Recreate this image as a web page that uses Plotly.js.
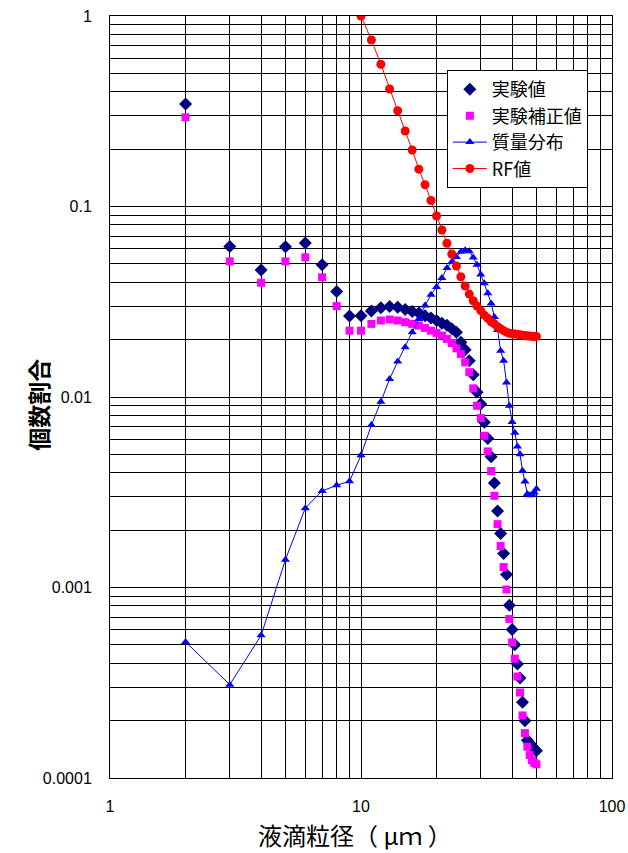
<!DOCTYPE html>
<html>
<head>
<meta charset="utf-8">
<script src="https://cdn.plot.ly/plotly-3.0.1.min.js"></script>
<style>html,body{margin:0;padding:0;background:#fff;}#chart{width:628px;height:853px;}</style>
</head>
<body>
<div id="chart"></div>
<script>
// ---- data ----
var sizeX = [2,3,4,5,6,7,8,9,10,11,12,13,14,15,16,17,18,19,20,21,22,23,24,25,26,27,28,29,30,31,32,33,34,35,36,37,38,39,40,41,42,43,44,45,46,47,48,49,50];
var expValues = [0.345,0.0616,0.0464,0.0614,0.0644,0.0495,0.0358,0.0266,0.0267,0.0283,0.0294,0.0299,0.0296,0.0288,0.0281,0.0276,0.0267,0.0260,0.0252,0.0244,0.0238,0.0228,0.0219,0.0194,0.0177,0.0155,0.0131,0.0106,0.00919,0.00736,0.00606,0.00485,0.00354,0.00252,0.00192,0.00151,0.00117,0.000807,0.000601,0.000501,0.000397,0.000335,0.000250,0.000200,0.000158,0.000152,0.000147,0.000142,0.000139];
var corrValues = [0.294,0.0515,0.0398,0.0515,0.0541,0.0425,0.0300,0.0223,0.0223,0.0242,0.0252,0.0255,0.0252,0.0247,0.0242,0.0237,0.0230,0.0223,0.0217,0.0210,0.0202,0.0192,0.0180,0.0168,0.0152,0.0135,0.0111,0.0090,0.00775,0.00626,0.00518,0.00409,0.00303,0.00215,0.00165,0.00128,0.000976,0.000684,0.000515,0.000423,0.000341,0.000281,0.000213,0.000172,0.000146,0.000132,0.000124,0.000120,0.000118];
var massValues = [0.000518,0.000309,0.000561,0.00140,0.00261,0.00321,0.00344,0.00361,0.00495,0.00712,0.00945,0.01244,0.01534,0.01826,0.0219,0.0257,0.0302,0.0344,0.0378,0.0421,0.0476,0.0512,0.0543,0.0578,0.0589,0.0582,0.0540,0.0495,0.0440,0.0395,0.0350,0.0310,0.0263,0.0225,0.0175,0.0155,0.0119,0.0090,0.0074,0.0065,0.0055,0.0050,0.0041,0.0036,0.0031,0.00305,0.00308,0.00315,0.0033];
var rfX = [10,11,12,13,14,15,16,17,18,19,20,21,22,23,24,25,26,27,28,29,30,31,32,33,34,35,36,37,38,39,40,41,42,43,44,45,46,47,48,49,50];
var rfValues = [1.0,0.748,0.558,0.414,0.318,0.249,0.198,0.157,0.130,0.1075,0.0892,0.0753,0.0641,0.0563,0.0487,0.0428,0.0382,0.0347,0.0320,0.0300,0.0284,0.0269,0.0259,0.0248,0.0242,0.0234,0.0228,0.0223,0.0219,0.0216,0.0215,0.0214,0.0213,0.0212,0.0211,0.0210,0.0209,0.0209,0.0208,0.0208,0.0208];
var seriesNames = ['実験値','実験補正値','質量分布','RF値'];
var xTickVals = [1,2,3,4,5,6,7,8,9,10,20,30,40,50,60,70,80,90,100];
var xTickText = ['1','','','','','','','','','10','','','','','','','','','100'];
var yTickVals = [0.0001,0.0002,0.0003,0.0004,0.0005,0.0006,0.0007,0.0008,0.0009,0.001,0.002,0.003,0.004,0.005,0.006,0.007,0.008,0.009,0.01,0.02,0.03,0.04,0.05,0.06,0.07,0.08,0.09,0.1,0.2,0.3,0.4,0.5,0.6,0.7,0.8,0.9,1];
var yTickText = ['0.0001','','','','','','','','','0.001','','','','','','','','','0.01','','','','','','','','','0.1','','','','','','','','','1'];
var xTitle = '液滴粒径（ μｍ ）';
var yTitle = '個数割合';

var cjk = '"Noto Sans CJK JP", "Noto Sans", sans-serif';
var traces = [
  {x: sizeX, y: expValues, name: seriesNames[0], mode: 'markers', type: 'scatter',
   marker: {symbol: 'diamond', size: 10, color: '#000080'}},
  {x: sizeX, y: corrValues, name: seriesNames[1], mode: 'markers', type: 'scatter',
   marker: {symbol: 'square', size: 8, color: '#FF00FF'}},
  {x: sizeX, y: massValues, name: seriesNames[2], mode: 'lines+markers', type: 'scatter',
   line: {color: '#0000FF', width: 1}, marker: {symbol: 'triangle-up', size: 8, color: '#0000FF'}},
  {x: rfX, y: rfValues, name: seriesNames[3], mode: 'lines+markers', type: 'scatter',
   line: {color: '#FF0000', width: 1}, marker: {symbol: 'circle', size: 9, color: '#FF0000'}}
];

var layout = {
  width: 628, height: 853,
  margin: {l: 110, r: 16, t: 16, b: 75},
  paper_bgcolor: '#fff', plot_bgcolor: '#fff',
  showlegend: true,
  legend: {x: 0.671, y: 0.929, xanchor: 'left', yanchor: 'top',
    bgcolor: '#fff', bordercolor: '#000', borderwidth: 1, itemwidth: 34,
    font: {family: cjk, size: 18, color: '#000'}, tracegroupgap: 0},
  xaxis: {type: 'log', range: [0, 2], tickmode: 'array', tickvals: xTickVals, ticktext: xTickText,
    showgrid: true, gridcolor: '#000', gridwidth: 1, zeroline: false,
    showline: true, linecolor: '#000', linewidth: 1, mirror: true, ticks: '',
    ticklabelstandoff: 14,
    tickfont: {family: 'Liberation Sans, Arial, sans-serif', size: 16, color: '#000'}},
  yaxis: {type: 'log', range: [-4, 0], tickmode: 'array', tickvals: yTickVals, ticktext: yTickText,
    showgrid: true, gridcolor: '#000', gridwidth: 1, zeroline: false,
    showline: true, linecolor: '#000', linewidth: 1, mirror: true, ticks: '',
    ticklabelstandoff: 14,
    tickfont: {family: 'Liberation Sans, Arial, sans-serif', size: 16, color: '#000'}},
  annotations: [
    {text: '<b>' + yTitle + '</b>', xref: 'paper', yref: 'paper',
     x: -0.1434, y: 0.49, xanchor: 'center', yanchor: 'middle', textangle: -90, showarrow: false,
     font: {family: cjk, size: 23, color: '#000'}},
    {text: xTitle, xref: 'paper', yref: 'paper',
     x: 0.488, y: -0.0748, xanchor: 'center', yanchor: 'middle', showarrow: false,
     font: {family: cjk, size: 24, color: '#000'}}
  ]
};

Plotly.newPlot('chart', traces, layout, {displayModeBar: false, staticPlot: true});
</script>
</body>
</html>
